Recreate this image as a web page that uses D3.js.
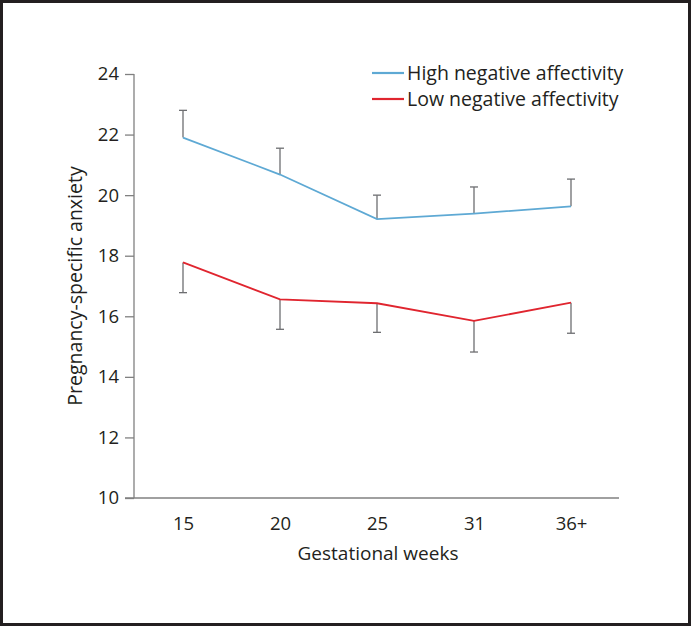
<!DOCTYPE html>
<html><head><meta charset="utf-8">
<script src="https://cdn.jsdelivr.net/npm/d3@7"></script>
<style>
html,body{margin:0;padding:0;background:#fff;}
svg{display:block;}
text{font-family:"Open Sans","DejaVu Sans",sans-serif;fill:#231f20;}
</style></head>
<body>
<svg id="chart" width="691" height="627"></svg>
<script>
const categories = ["15","20","25","31","36+"];
const highMean = [21.9, 20.68, 19.21, 19.39, 19.63];
const highUpper = [22.8, 21.55, 20.0, 20.27, 20.53];
const lowMean = [17.78, 16.56, 16.43, 15.85, 16.45];
const lowLower = [16.78, 15.57, 15.47, 14.82, 15.44];
const yTicks = [10,12,14,16,18,20,22,24];
const seriesNames = ["High negative affectivity","Low negative affectivity"];

const svg = d3.select("#chart");
// frame
svg.append("rect").attr("x",1.5).attr("y",1.5).attr("width",688).attr("height",623)
  .attr("fill","none").attr("stroke","#231f20").attr("stroke-width",3);

const x = d3.scalePoint().domain(categories).range([183,571]);
const y = d3.scaleLinear().domain([10,24]).range([498,74]);

const axisColor = "#808080";
// y axis
const yAxis = svg.append("g").attr("transform","translate(134,0)")
  .call(d3.axisLeft(y).tickValues(yTicks).tickSize(9).tickPadding(6));
yAxis.select(".domain").attr("stroke",axisColor).attr("stroke-width",1.3).attr("d","M0,74V498");
yAxis.selectAll(".tick line").attr("stroke",axisColor).attr("stroke-width",1.3);
yAxis.selectAll(".tick text").attr("font-size",18.5).attr("font-family","'Open Sans',sans-serif").attr("fill","#231f20");

// x axis
const xAxis = svg.append("g").attr("transform","translate(0,498)")
  .call(d3.axisBottom(x).tickSize(0).tickPadding(19));
xAxis.select(".domain").attr("stroke",axisColor).attr("stroke-width",1.3).attr("d","M125,0H619");
xAxis.selectAll(".tick text").attr("font-size",18.5).attr("font-family","'Open Sans',sans-serif").attr("fill","#231f20");

// axis titles
svg.append("text").attr("x",378).attr("y",560).attr("text-anchor","middle")
  .attr("font-size",19).text("Gestational weeks");
svg.append("text").attr("transform","translate(82,286) rotate(-90)").attr("text-anchor","middle")
  .attr("font-size",19.5).text("Pregnancy-specific anxiety");

const errColor = "#6d6e71";
const capW = 4;
function errBars(means, ends){
  const g = svg.append("g");
  categories.forEach((c,i)=>{
    const cx = x(c);
    g.append("line").attr("x1",cx).attr("x2",cx).attr("y1",y(means[i])).attr("y2",y(ends[i]))
      .attr("stroke",errColor).attr("stroke-width",1.3);
    g.append("line").attr("x1",cx-capW).attr("x2",cx+capW).attr("y1",y(ends[i])).attr("y2",y(ends[i]))
      .attr("stroke",errColor).attr("stroke-width",1.3);
  });
}
errBars(highMean, highUpper);
errBars(lowMean, lowLower);

const blue = "#5ea9d4", red = "#e0252f";
const line = d3.line().x((d,i)=>x(categories[i])).y(d=>y(d));
svg.append("path").datum(highMean).attr("d",line).attr("fill","none").attr("stroke",blue).attr("stroke-width",1.8);
svg.append("path").datum(lowMean).attr("d",line).attr("fill","none").attr("stroke",red).attr("stroke-width",1.8);

// legend
const legColors = [blue, red];
seriesNames.forEach((n,i)=>{
  const ly = 73 + i*26;
  svg.append("line").attr("x1",372).attr("x2",404).attr("y1",ly).attr("y2",ly)
    .attr("stroke",legColors[i]).attr("stroke-width",2.2);
  svg.append("text").attr("x",407).attr("y",ly+7).attr("font-size",19.5).text(n);
});
</script>
</body></html>
